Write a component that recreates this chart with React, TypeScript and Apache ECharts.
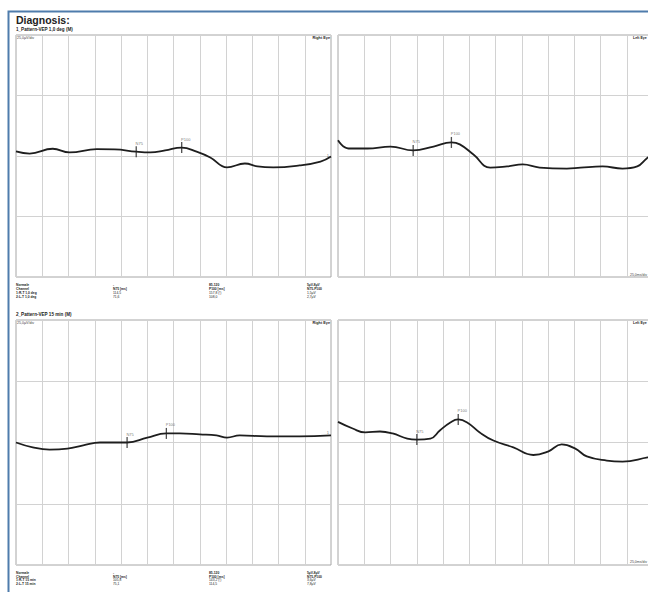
import React, { useEffect, useRef } from "react";
import * as echarts from "echarts";

const FONT = "'Liberation Sans', Arial, sans-serif";

// Traces: time in ms, amplitude in µV (25 µV/div, 25 ms/div)
const rightEye10Ms = [0, 13, 35, 51, 77, 94, 114.5, 128, 142, 157.8, 172, 185, 201, 218, 230, 245, 270, 290, 300];
const rightEye10Uv = [1.9, 1.0, 3.0, 1.5, 2.8, 2.7, 1.8, 1.5, 2.3, 3.5, 1.8, -0.6, -4.7, -3.1, -4.3, -4.7, -3.9, -2.3, -0.2];

const leftEye10Ms = [0, 10, 28, 50, 71.6, 91, 108, 116, 129, 145, 161, 176, 192, 218, 231, 252, 271, 285, 294, 300];
const leftEye10Uv = [6.5, 3.1, 3.1, 3.9, 2.3, 3.9, 5.6, 4.8, 0.6, -4.8, -4.3, -3.5, -4.8, -5.2, -4.8, -4.3, -5.2, -4.3, -1.0, 0.8];

const rightEye15Ms = [0, 16, 32, 49, 64, 80, 90, 105.8, 125, 143.2, 156, 175, 191, 201, 213, 239, 270, 300];
const rightEye15Uv = [0, -2.0, -2.9, -2.5, -1.2, 0, 0, 0, 2.0, 3.7, 3.7, 3.3, 2.9, 2.0, 2.9, 2.5, 2.5, 2.9];

const leftEye15Ms = [0, 14, 26, 40, 52, 66, 75.1, 88, 97, 107, 114.5, 123, 135, 148, 167, 186, 200, 213, 226, 237, 256, 271, 295, 300];
const leftEye15Uv = [8.4, 5.7, 4.1, 4.5, 3.7, 1.6, 1.2, 1.6, 4.9, 8.2, 9.4, 8.2, 4.1, 0.8, -2.0, -5.1, -3.7, -0.8, -2.5, -5.7, -7.4, -7.8, -6.1, -5.8];

// Peak markers: [N75, P100]
const markNames = ["N75", "P100"];
const rightEye10Marks = [[114.5, 1.8], [157.8, 3.5]];
const leftEye10Marks = [[71.6, 2.3], [108.0, 5.6]];
const rightEye15Marks = [[105.8, 0], [143.2, 3.7]];
const leftEye15Marks = [[75.1, 1.2], [114.5, 9.4]];
const endMarkMs = 297;

// Result tables
const table10Rows = [
  ["Normale", "-", "85-120", "5µV-8µV"],
  ["Channel", "N75 [ms]", "P100 [ms]", "N75-P100"],
  ["1:R-T 1,0 deg", "114,5", "157,8 (!)", "1,5µV"],
  ["2:L-T 1,0 deg", "71,6", "108,0", "2,7µV"],
];
const table15Rows = [
  ["Normale", "-", "85-120", "5µV-8µV"],
  ["Channel", "N75 [ms]", "P100 [ms]", "N75-P100"],
  ["1:R-T 15 min", "105,8", "143,2 (!)", "3,6µV"],
  ["2:L-T 15 min", "75,1", "114,5", "7,8µV"],
];
const tableColX = [16, 113, 209, 307];

const title = "Diagnosis:";
const section1 = "1_Pattern-VEP 1,0 deg (M)";
const section2 = "2_Pattern-VEP 15 min (M)";

export default function App() {
  const ref = useRef<HTMLDivElement>(null);

  useEffect(() => {
    if (!ref.current) return;
    const chart = echarts.init(ref.current, null, { renderer: "svg" });

    const grids = [
      { left: 16, top: 35, width: 315, height: 242 },
      { left: 338, top: 35, width: 315, height: 242 },
      { left: 16, top: 320, width: 315, height: 245 },
      { left: 338, top: 320, width: 315, height: 245 },
    ].map((g) => ({ ...g, show: true, borderColor: "#a6a6a6", borderWidth: 1, backgroundColor: "#fff" }));

    const xAxes = grids.map((_, i) => ({
      type: "value",
      gridIndex: i,
      min: 0,
      max: 300,
      interval: 25,
      axisLine: { show: false },
      axisTick: { show: false },
      axisLabel: { show: false },
      splitLine: { show: true, lineStyle: { color: "#d2d2d2", width: 1 } },
    }));
    const yAxes = grids.map((_, i) => ({
      type: "value",
      gridIndex: i,
      min: -50,
      max: 50,
      interval: 25,
      axisLine: { show: false },
      axisTick: { show: false },
      axisLabel: { show: false },
      splitLine: { show: true, lineStyle: { color: "#d2d2d2", width: 1 } },
    }));

    const traces = [
      [rightEye10Ms, rightEye10Uv, rightEye10Marks, true],
      [leftEye10Ms, leftEye10Uv, leftEye10Marks, false],
      [rightEye15Ms, rightEye15Uv, rightEye15Marks, true],
      [leftEye15Ms, leftEye15Uv, leftEye15Marks, false],
    ] as const;

    const series: any[] = [];
    traces.forEach(([ms, uv, marks, showEnd], i) => {
      const data = ms.map((m, k) => [m, uv[k]]);
      series.push({
        type: "line",
        xAxisIndex: i,
        yAxisIndex: i,
        data,
        smooth: 0.45,
        symbol: "none",
        lineStyle: { color: "#1e1e1e", width: 1.8 },
        silent: true,
      });
      series.push({
        type: "scatter",
        xAxisIndex: i,
        yAxisIndex: i,
        symbol: "rect",
        symbolSize: [1.3, 11],
        itemStyle: { color: "#222" },
        data: marks.map((p, k) => ({ value: p, name: markNames[k] })),
        label: {
          show: true,
          formatter: "{b}",
          position: [0, -5],
          fontSize: 4,
          fontFamily: FONT,
          color: "#555555",
          textBorderWidth: 0,
        },
        z: 5,
      });
      if (showEnd) {
        const lastIdx = ms.length - 1;
        const endUv = uv[lastIdx - 1] + ((uv[lastIdx] - uv[lastIdx - 1]) * (endMarkMs - ms[lastIdx - 1])) / (ms[lastIdx] - ms[lastIdx - 1]);
        series.push({
          type: "scatter",
          xAxisIndex: i,
          yAxisIndex: i,
          symbolSize: 0,
          data: [{ value: [endMarkMs, endUv], name: "1" }],
          label: { show: true, formatter: "{b}", position: "top", distance: 1, fontSize: 4, fontFamily: FONT, color: "#555555" },
        });
      }
    });

    const txt = (text: string, x: number, y: number, size: number, opts: any = {}) => ({
      type: "text",
      x,
      y,
      z: 10,
      style: {
        text,
        fill: opts.fill || "#222",
        font: `${opts.bold ? "bold " : ""}${size}px ${FONT}`,
        textAlign: opts.align || "left",
        textVerticalAlign: "middle",
      },
    });

    const graphics: any[] = [
      {
        type: "rect",
        shape: { x: 8.5, y: 11.5, width: 800, height: 800 },
        style: { fill: "none", stroke: "#4f7cac", lineWidth: 2 },
        z: 1,
      },
      txt(title, 16, 19.5, 10.5, { bold: true }),
      txt(section1, 16, 29.5, 4.6, { bold: true }),
      txt(section2, 16, 314.5, 4.6, { bold: true }),
      txt("25,0µV/div", 17, 37.5, 3.6, { fill: "#444" }),
      txt("25,0µV/div", 17, 322.5, 3.6, { fill: "#444" }),
      txt("Right Eye", 330, 37.5, 3.8, { bold: true, align: "right" }),
      txt("Right Eye", 330, 322.5, 3.8, { bold: true, align: "right" }),
      txt("Left Eye", 633, 37.5, 3.5, { bold: true }),
      txt("Left Eye", 633, 322.5, 3.5, { bold: true }),
      txt("25,0ms/div", 630, 274.5, 3.5, { fill: "#444" }),
      txt("25,0ms/div", 630, 562, 3.5, { fill: "#444" }),
    ];
    table10Rows.forEach((row, r) =>
      row.forEach((cell, c) => graphics.push(txt(cell, tableColX[c], 285 + r * 3.9, 3.3, { bold: r < 2 || c === 0 })))
    );
    table15Rows.forEach((row, r) =>
      row.forEach((cell, c) => graphics.push(txt(cell, tableColX[c], 572.5 + r * 3.9, 3.3, { bold: r < 2 || c === 0 })))
    );

    chart.setOption({
      animation: false,
      backgroundColor: "#fff",
      grid: grids,
      xAxis: xAxes,
      yAxis: yAxes,
      series,
      graphic: graphics,
    });

    return () => chart.dispose();
  }, []);

  return (
    <div style={{ position: "fixed", left: 0, top: 0, width: 648, height: 592, overflow: "hidden", background: "#fff" }}>
      <div ref={ref} style={{ width: 660, height: 592 }} />
    </div>
  );
}
